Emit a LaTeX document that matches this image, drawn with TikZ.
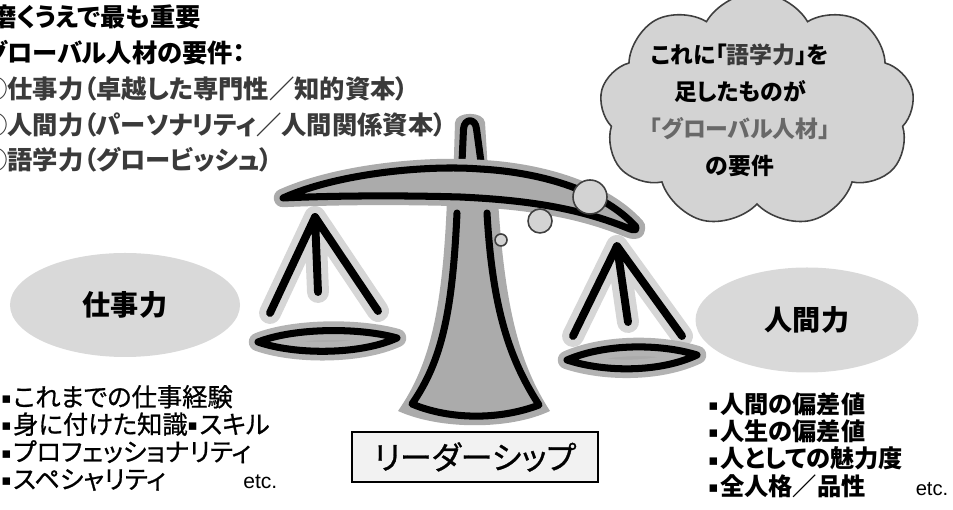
\documentclass[tikz,border=0pt]{standalone}
\usepackage{fontspec}
\setmainfont{Noto Sans CJK JP}[RawFeature=+palt]
\newfontfamily\jpmedium{Noto Sans CJK JP}[RawFeature=+palt,FakeBold=0.8]
\newfontfamily\latinfont{Liberation Sans}
\newfontfamily\symfont{DejaVu Sans}
\usetikzlibrary{shapes.geometric,shapes.symbols}
\definecolor{metal}{HTML}{ABABAB}
\definecolor{mist}{HTML}{D6D6D6}
\definecolor{panrim}{HTML}{B3B3B3}
\definecolor{smoke}{HTML}{D3D3D3}
\definecolor{pale}{HTML}{D9D9D9}
\definecolor{paper}{HTML}{F2F2F2}
\definecolor{graphite}{HTML}{3F3F3F}
\definecolor{subink}{HTML}{3A3A3A}
\definecolor{midink}{HTML}{686868}
\newcommand{\itemsq}{\raisebox{1.6pt}{\fontsize{8.5}{8.5}\symfont\char"25AA}\hspace{1pt}}

\begin{document}
\begin{tikzpicture}[
  every node/.style={inner sep=0pt},
  ink/.style={black, line width=4pt, line cap=round, line join=round},
  glow/.style={mist, line width=12.5pt, line cap=round, line join=round},
  rim/.style={line width=10.5pt, line cap=round, line join=round},
  bubble/.style={draw=graphite, fill=smoke, line width=.9pt},
  pill/.style={ellipse, fill=pale, font=\bfseries\fontsize{16}{16}\selectfont},
  heading/.style={anchor=west, font=\bfseries\fontsize{14.4}{14.4}\selectfont},
  listtext/.style={anchor=west, align=left, font=\jpmedium\fontsize{14.4}{15.6}\selectfont}
]
\useasboundingbox (0,0) rectangle (19.06,10.2);
\clip (0,0) rectangle (19.06,10.2);

% headline list, top left
\node[heading] (need) at (-.18,9.86) {磨くうえで最も重要};
\node[heading] (global) at (-.34,9.14) {グローバル人材の要件：};
\node[heading,text=subink] (req1) at (-.36,8.42) {①仕事力（卓越した専門性／知的資本）};
\node[heading,text=subink] (req2) at (-.36,7.70) {②人間力（パーソナリティ／人間関係資本）};
\node[heading,text=subink] (req3) at (-.36,7.00) {③語学力（グロービッシュ）};

% hangers
\coordinate (lapex) at (6.30,5.86);
\coordinate (rapex) at (12.34,5.28);
\draw[glow] (5.40,3.94) -- (lapex) -- (7.56,3.98) (lapex) -- (6.36,4.36);
\draw[ink,line width=4.5pt] (5.40,3.94) -- (lapex) -- (7.56,3.98) (lapex) -- (6.36,4.36);
\draw[glow] (11.46,3.48) -- (rapex) -- (13.64,3.48) (rapex) -- (12.56,3.76);
\draw[ink,line width=4.5pt] (11.46,3.48) -- (rapex) -- (13.64,3.48) (rapex) -- (12.56,3.76);

% pans
\draw[rim,draw=panrim,fill=metal]
  (5.16,3.36) .. controls (5.9,3.65) and (7.2,3.65) .. (7.94,3.44)
  .. controls (7.2,3.1) and (5.9,3.1) .. cycle;
\draw[ink]
  (5.16,3.36) .. controls (5.9,3.65) and (7.2,3.65) .. (7.94,3.44)
  .. controls (7.2,3.1) and (5.9,3.1) .. cycle;
\draw[rim,draw=panrim,fill=metal]
  (11.34,3.00) .. controls (12.1,3.33) and (13.2,3.33) .. (13.94,3.10)
  .. controls (13.2,2.75) and (12.1,2.75) .. cycle;
\draw[ink]
  (11.34,3.00) .. controls (12.1,3.33) and (13.2,3.33) .. (13.94,3.10)
  .. controls (13.2,2.75) and (12.1,2.75) .. cycle;

% stand
\fill[metal] (8.94,6.2) .. controls (8.85,4.0) and (8.6,2.9) .. (7.96,1.98)
  .. controls (8.8,1.6) and (10.2,1.6) .. (11.0,1.98)
  .. controls (10.4,2.9) and (10.1,4.0) .. (9.96,6.2) -- cycle;
\draw[ink] (9.14,5.94) .. controls (9.05,4.0) and (8.85,3.0) .. (8.24,2.12)
  .. controls (9.0,1.8) and (10.0,1.8) .. (10.78,2.10)
  .. controls (10.2,3.0) and (9.85,4.0) .. (9.74,5.94);

% knob on top
\fill[metal] (8.90,6.70) .. controls (9.05,6.75) and (9.08,6.9) .. (9.08,7.1)
  -- (9.10,7.75) .. controls (9.12,7.98) and (9.68,7.98) .. (9.70,7.75)
  -- (9.74,7.1) .. controls (9.74,6.9) and (9.8,6.75) .. (10.0,6.70) -- cycle;
\draw[ink] (9.24,6.96) -- (9.27,7.62) .. controls (9.29,7.84) and (9.51,7.84) .. (9.53,7.62)
  -- (9.62,6.96);

% beam
\draw[rim,draw=metal,fill=metal]
  (5.66,6.24) .. controls (6.8,6.75) and (8.6,6.9) .. (9.6,6.82)
  .. controls (10.9,6.75) and (12.1,6.35) .. (12.72,5.66)
  .. controls (12.75,5.55) and (12.6,5.62) .. (12.45,5.68)
  .. controls (11.5,6.05) and (10.5,6.2) .. (9.2,6.26)
  .. controls (7.8,6.3) and (6.5,6.28) .. cycle;
\draw[ink]
  (5.66,6.24) .. controls (6.8,6.75) and (8.6,6.9) .. (9.6,6.82)
  .. controls (10.9,6.75) and (12.1,6.35) .. (12.72,5.66)
  .. controls (12.75,5.55) and (12.6,5.62) .. (12.45,5.68)
  .. controls (11.5,6.05) and (10.5,6.2) .. (9.2,6.26)
  .. controls (7.8,6.3) and (6.5,6.28) .. cycle;

% thought bubbles
\draw[bubble] (10.02,5.40) circle (.12);
\draw[bubble] (10.80,5.78) circle (.24);
\draw[bubble] (11.80,6.26) circle (.34);

\node[cloud,cloud puffs=9,cloud puff arc=120,aspect=1.6,
      draw=graphite,fill=smoke,line width=.9pt,
      minimum width=6.3cm,minimum height=4.7cm] (cloud) at (15.14,8.0) {};
\node[align=center,font=\bfseries\fontsize{13}{21}\selectfont] (cloudtext) at (14.80,8.0)
  {これに「{\color{subink}語学力}」を\\足したものが\\{\color{midink}「グローバル人材」}\\の要件};

% the two abilities
\node[pill,minimum width=4.6cm,minimum height=2.08cm] (work) at (2.5,4.1) {仕事力};
\node[pill,minimum width=4.46cm,minimum height=2.1cm] (human) at (16.14,3.8) {人間力};

\node[listtext] (worklist) at (.02,1.44)
  {\itemsq これまでの仕事経験\\
   \itemsq 身に付けた知識\itemsq スキル\\
   \itemsq プロフェッショナリティ\\
   \itemsq スペシャリティ\hspace{1.55cm}{\latinfont\fontsize{12}{12}\selectfont etc.}};
\node[listtext,font=\bfseries\fontsize{13.8}{15.5}\selectfont] (humanlist) at (14.16,1.30)
  {\itemsq 人間の偏差値\\
   \itemsq 人生の偏差値\\
   \itemsq 人としての魅力度\\
   \itemsq 全人格／品性\hspace{1.0cm}{\latinfont\mdseries\fontsize{11.5}{11.5}\selectfont etc.}};

\node[draw,fill=paper,line width=.8pt,minimum width=4.92cm,minimum height=1.0cm,
      font=\jpmedium\fontsize{18.2}{18.2}\selectfont] (leader) at (9.5,1.06) {リーダーシップ};

\end{tikzpicture}
\end{document}
